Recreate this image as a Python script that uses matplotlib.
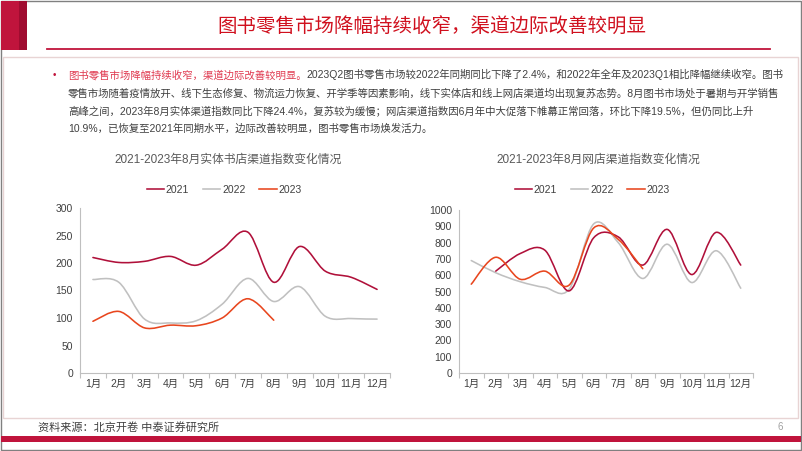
import numpy as np
import matplotlib
matplotlib.use("Agg")
import matplotlib.pyplot as plt
from matplotlib.path import Path
from matplotlib.patches import PathPatch, Rectangle
from matplotlib.lines import Line2D

plt.rcParams['font.family'] = ['Liberation Sans', 'Noto Sans CJK SC', 'DejaVu Sans']

# ---- data ----
months = ['1月', '2月', '3月', '4月', '5月', '6月', '7月', '8月', '9月', '10月', '11月', '12月']
years = ['2021', '2022', '2023']

store_2021 = [210, 201, 203, 212, 196, 225, 256, 165, 230, 185, 174, 152]
store_2022 = [170, 165, 98, 91, 95, 125, 172, 130, 157, 103, 99, 98]
store_2023 = [94, 112, 82, 87, 86, 100, 135, 96]

online_2021 = [None, 625, 733, 754, 504, 830, 835, 662, 881, 604, 863, 662]
online_2022 = [690, 615, 560, 525, 515, 915, 800, 580, 790, 555, 750, 520]
online_2023 = [545, 710, 575, 625, 540, 890, 820, 640]

title = '图书零售市场降幅持续收窄，渠道边际改善较明显'
body_red = '图书零售市场降幅持续收窄，渠道边际改善较明显。'
body_lines = [
    '2023Q2图书零售市场较2022年同期同比下降了2.4%，和2022年全年及2023Q1相比降幅继续收窄。图书',
    '零售市场随着疫情放开、线下生态修复、物流运力恢复、开学季等因素影响，线下实体店和线上网店渠道均出现复苏态势。8月图书市场处于暑期与开学销售',
    '高峰之间，2023年8月实体渠道指数同比下降24.4%，复苏较为缓慢；网店渠道指数因6月年中大促落下帷幕正常回落，环比下降19.5%，但仍同比上升',
    '10.9%，已恢复至2021年同期水平，边际改善较明显，图书零售市场焕发活力。',
]
source = '资料来源：北京开卷 中泰证券研究所'
chart_titles = ['2021-2023年8月实体书店渠道指数变化情况', '2021-2023年8月网店渠道指数变化情况']

colors = ['#B0103A', '#C0C0C0', '#E8461E']
RED = '#C0143C'
W, H = 802, 451


def smooth_line(ax, values, color, z):
    # Excel-like smoothed line: Catmull-Rom segments as cubic Beziers
    runs, cur = [], []
    for i, v in enumerate(values):
        if v is None:
            if cur:
                runs.append(cur)
            cur = []
        else:
            cur.append((i, v))
    if cur:
        runs.append(cur)
    for run in runs:
        pts = np.array(run, dtype=float)
        n = len(pts)
        verts, codes = [pts[0]], [Path.MOVETO]
        for i in range(n - 1):
            p0 = pts[i - 1] if i > 0 else pts[i]
            p1, p2 = pts[i], pts[i + 1]
            p3 = pts[i + 2] if i + 2 < n else p2
            verts += [p1 + (p2 - p0) / 6, p2 - (p3 - p1) / 6, p2]
            codes += [Path.CURVE4] * 3
        ax.add_patch(PathPatch(Path(verts, codes), fill=False, edgecolor=color,
                               lw=1.15, capstyle='round', joinstyle='round', zorder=z))


def setup(ax, ymax, step, chart_title, title_x, leg_x):
    ax.set_facecolor('none')
    ax.set_xlim(-0.5, len(months) - 0.5)
    ax.set_ylim(0, ymax)
    ax.set_yticks(np.arange(0, ymax + 1, step))
    ax.set_xticks(range(len(months)))
    ax.set_xticklabels(months)
    ax.set_xticks(np.arange(-0.5, len(months), 1), minor=True)
    ax.tick_params(axis='x', which='major', length=0, pad=4.5, labelsize=7.5, labelcolor='#404040')
    ax.tick_params(axis='x', which='minor', length=3.5, color='#BFBFBF', width=0.8)
    ax.tick_params(axis='y', length=0, pad=5, labelsize=7.5, labelcolor='#404040')
    for s in ['top', 'right']:
        ax.spines[s].set_visible(False)
    for s in ['left', 'bottom']:
        ax.spines[s].set_color('#BFBFBF')
        ax.spines[s].set_linewidth(0.8)
    page.text(title_x, 160, chart_title, fontsize=8.5, color='#595959', ha='center', va='center')
    handles = [Line2D([], [], color=c, lw=1.15) for c in colors]
    ax.legend(handles, years, loc='center', bbox_to_anchor=(leg_x / W, 1 - 190 / H),
              bbox_transform=fig.transFigure, ncol=3, frameon=False, fontsize=7.5,
              handlelength=1.7, handletextpad=0.15, columnspacing=1.3, labelcolor='#404040')


fig = plt.figure(figsize=(W / 100, H / 100), dpi=100)

# page layer in pixel coordinates
page = fig.add_axes([0, 0, 1, 1], zorder=0)
page.set_xlim(0, W)
page.set_ylim(H, 0)
page.axis('off')
page.add_patch(Rectangle((0.5, 0.5), W - 1.5, H - 2, fill=False, edgecolor='#808080', lw=1))
page.add_patch(Rectangle((1, 1), 18, 49, color=RED, lw=0))
page.add_patch(Rectangle((19, 1), 8, 49, color='#A00C30', lw=0))
page.plot([47, 770], [48.5, 48.5], color=RED, lw=1.3)
page.text(432, 27, title, fontsize=14, color='#D0101E', ha='center', va='center')
page.add_patch(Rectangle((3, 57), 795, 361, fill=False, edgecolor='#E8D4D4', lw=1))
page.add_patch(Rectangle((1, 436), 800, 6, color=RED, lw=0))
page.text(38, 427, source, fontsize=8, color='#404040', ha='left', va='center', style='italic')
page.text(778, 427, '6', fontsize=7, color='#A0A0A0', ha='left', va='center')

# body text
page.text(54, 75, '•', fontsize=7, color=RED, ha='center', va='center')
line_y = [75, 93, 111, 128]
red_t = page.text(68, line_y[0], body_red, fontsize=7.5, color='#E03A50', ha='left', va='center')
page.annotate(body_lines[0], xy=(1, 0), xycoords=red_t, fontsize=7.5, color='#404040',
              ha='left', va='bottom')
for y, s in zip(line_y[1:], body_lines[1:]):
    page.text(68, y, s, fontsize=7.5, color='#404040', ha='left', va='center')

# chart 1: physical stores
ax1 = fig.add_axes([80 / W, 1 - 373 / H, 310 / W, 165 / H], zorder=1)
setup(ax1, 300, 50, chart_titles[0], 228, 224)
for vals, c, z in zip([store_2021, store_2022, store_2023], colors, [3, 2, 4]):
    smooth_line(ax1, vals, c, z)

# chart 2: online stores
ax2 = fig.add_axes([459 / W, 1 - 373 / H, 294 / W, 163 / H], zorder=1)
setup(ax2, 1000, 100, chart_titles[1], 598, 592)
for vals, c, z in zip([online_2021, online_2022, online_2023], colors, [3, 2, 4]):
    smooth_line(ax2, vals, c, z)

fig.savefig('out.png', dpi=100)
